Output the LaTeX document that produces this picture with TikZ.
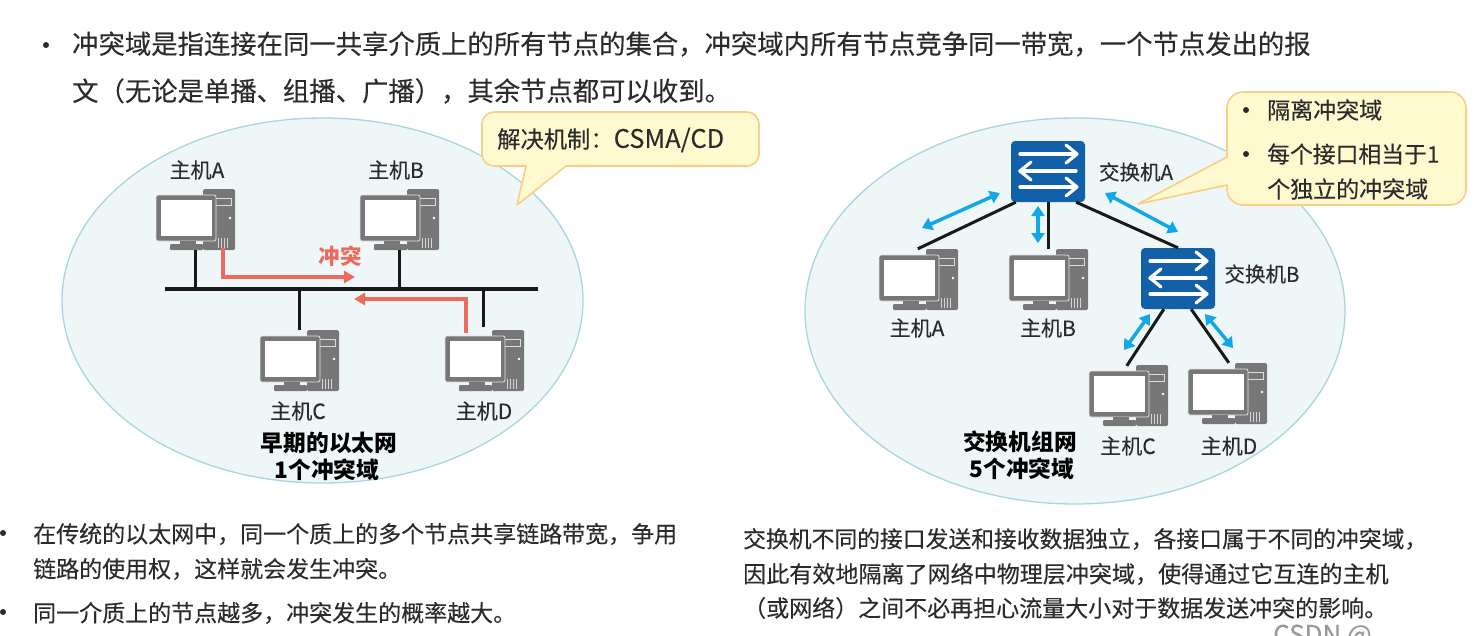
\documentclass[tikz,border=0pt]{standalone}
\usepackage{fontspec}
\setmainfont{Noto Sans CJK SC}[FakeBold=0.15,BoldFeatures={FakeBold=0}]
\usetikzlibrary{arrows.meta,calc}
\definecolor{pcgrey}{HTML}{777777}
\definecolor{swblue}{HTML}{1260A8}
\definecolor{skyarrow}{HTML}{12A8E8}
\definecolor{redarrow}{HTML}{EE6A5A}
\definecolor{domfill}{HTML}{EFF6F8}
\definecolor{domedge}{HTML}{A8D5DF}
\definecolor{tipfill}{HTML}{FFF9CF}
\definecolor{tipedge}{HTML}{F8CF85}
\definecolor{inktext}{HTML}{2B2B2B}
\tikzset{
  bodybig/.style={anchor=west,inner sep=0pt,text=inktext,font=\fontsize{26.35}{30}\selectfont},
  bodysmall/.style={anchor=west,inner sep=0pt,text=inktext,font=\fontsize{22.7}{28}\selectfont},
  tiptext/.style={anchor=west,inner sep=0pt,text=inktext,font=\fontsize{23}{28}\selectfont},
  devlabel/.style={inner sep=0pt,text=inktext,font=\fontsize{21}{26}\selectfont},
  titlelabel/.style={inner sep=0pt,text=black,font=\fontsize{22.7}{27}\selectfont\bfseries},
  bulletdot/.style={circle,fill=inktext,inner sep=0pt,minimum size=6pt},
  cdomain/.style={draw=domedge,fill=domfill,line width=1.3pt},
  calloutbox/.style={draw=tipedge,fill=tipfill,line width=1.6pt,line join=round},
  wireline/.style={line width=3pt,black!90},
  busline/.style={line width=3.8pt,black!90},
  redflow/.style={draw=redarrow,line width=3.6pt,-{Triangle[length=11pt,width=12pt]}},
  blueflow/.style={draw=skyarrow,line width=3.5pt,{Triangle[length=10pt,width=13pt]}-{Triangle[length=10pt,width=13pt]}},
  pc/.pic={
    \node[inner sep=0pt,minimum width=79pt,minimum height=61pt] (box) at (39.5,30.5) {};
    \fill[pcgrey,rounded corners=1.5pt] (47,0) rectangle (79,61);
    \fill[white!75!pcgrey] (51,9) rectangle (76,17);
    \fill[pcgrey] (52,10) rectangle (75,16);
    \fill[white] (74,29) circle (1.4);
    \foreach \sx in {62,65,68,71} \fill[white!70!pcgrey] (\sx,49) rectangle +(1,10);
    \fill[pcgrey,draw=white!80!pcgrey,line width=.8pt,rounded corners=2pt] (0,6) rectangle (60,52);
    \fill[white] (5,11) rectangle (56,47);
    \fill[pcgrey,rounded corners=1pt] (14,55) rectangle (47,61);
    \fill[pcgrey] (24,52) rectangle (40,55);
  },
  swicon/.pic={
    \begin{scope}[draw=white,line width=3.2pt,line cap=round,line join=round]
      \draw (9,13) -- (65,13); \draw (55,4) -- (66,13) -- (55,22);
      \draw (9,30) -- (65,30); \draw (20,21) -- (9,30) -- (20,39);
      \draw (9,46) -- (65,46); \draw (55,37) -- (66,46) -- (55,55);
    \end{scope}
  }
}
\begin{document}
\begin{tikzpicture}[x=1pt,y=-1pt]
\useasboundingbox (0,0) rectangle (1475,635);
\fill[white] (0,0) rectangle (1475,635);

% collision domains
\draw[cdomain] (322.5,300.5) ellipse [x radius=260.5,y radius=182.5];
\draw[cdomain] (1075,311) ellipse [x radius=270,y radius=193];

% heading
\node[bulletdot] (b0) at (46,45) {};
\node[bodybig] (t1) at (72,44) {冲突域是指连接在同一共享介质上的所有节点的集合，冲突域内所有节点竞争同一带宽，一个节点发出的报};
\node[bodybig] (t2) at (72,91) {文（无论是单播、组播、广播），其余节点都可以收到。};

% callouts
\draw[calloutbox] (494,112) -- (747,112) arc[start angle=-90,end angle=0,radius=12]
  -- (759,154) arc[start angle=0,end angle=90,radius=12]
  -- (566,166) -- (517,205) -- (526,166) -- (494,166) arc[start angle=90,end angle=180,radius=12]
  -- (482,124) arc[start angle=180,end angle=270,radius=12] -- cycle;
\node[tiptext,font=\fontsize{23.3}{28}\selectfont] (tipL) at (497,140) {解决机制：{\fontsize{25.5}{28}\selectfont CSMA/CD}};

\draw[calloutbox] (1243,92) -- (1450,92) arc[start angle=-90,end angle=0,radius=16]
  -- (1466,189) arc[start angle=0,end angle=90,radius=16]
  -- (1243,205) arc[start angle=90,end angle=180,radius=16]
  -- (1227,185) -- (1138,204) -- (1227,157) -- (1227,108) arc[start angle=180,end angle=270,radius=16] -- cycle;
\node[bulletdot] (tb1) at (1246,110) {};
\node[tiptext] (tr1) at (1267,110) {隔离冲突域};
\node[bulletdot] (tb2) at (1246,154) {};
\node[tiptext,font=\fontsize{22.8}{28}\selectfont] (tr2) at (1267,154) {每个接口相当于1};
\node[tiptext] (tr3) at (1267,189) {个独立的冲突域};

% left network
\pic (hA) at (156,189) {pc};
\pic (hB) at (360,189) {pc};
\pic (hC) at (260,330) {pc};
\pic (hD) at (445,330) {pc};
\coordinate (busL) at (165,289);
\coordinate (busR) at (538,289);
\draw[busline] (busL) -- (busR);
\draw[wireline] ([xshift=-0.5pt]hAbox.south) -- ([xshift=-0.5pt]hAbox.south |- busL);
\draw[wireline] ([xshift=0pt]hBbox.south) -- (hBbox.south |- busL);
\draw[wireline] (hCbox.north) -- (hCbox.north |- busL);
\draw[wireline] ([xshift=-1pt,yshift=3pt]hDbox.north) -- ([xshift=-1pt]hDbox.north |- busL);
\node[devlabel] (lA) at (197,170) {主机A};
\node[devlabel] (lB) at (396,170) {主机B};
\node[devlabel] (lC) at (298,411) {主机C};
\node[devlabel] (lD) at (484,411) {主机D};
\coordinate (r1s) at (223,248);
\coordinate (r1c) at (223,277);
\coordinate (r1e) at (355,277);
\coordinate (r2s) at (466,333);
\coordinate (r2c) at (466,299);
\coordinate (r2e) at (354,299);
\draw[redflow] (r1s) -- (r1c) -- (r1e);
\draw[redflow] (r2s) -- (r2c) -- (r2e);
\node[inner sep=0pt,text=redarrow,font=\fontsize{21.5}{26}\selectfont\bfseries] (clash) at (340,256) {冲突};
\node[titlelabel] (lt1) at (329,443) {早期的以太网};
\node[titlelabel] (lt2) at (327,470) {1个冲突域};

% right network
\node[inner sep=0pt,fill=swblue,rounded corners=4pt,minimum width=74pt,minimum height=61pt] (swA) at (1048,171.5) {};
\pic at (1011,141) {swicon};
\node[inner sep=0pt,fill=swblue,rounded corners=4pt,minimum width=74pt,minimum height=61pt] (swB) at (1178,278.5) {};
\pic at (1141,248) {swicon};
\pic (rA) at (879,249) {pc};
\pic (rB) at (1009,249) {pc};
\pic (rC) at (1089,365) {pc};
\pic (rD) at (1188,363) {pc};
\draw[wireline] ([xshift=5pt]swA.south west) -- ([xshift=39pt]rAbox.north west);
\draw[wireline] (swA.south) -- (swA.south |- rBbox.north);
\draw[wireline] ([xshift=-9pt]swA.south east) -- (swB.north);
\draw[wireline] ([xshift=23pt]swB.south west) -- ([xshift=38pt,yshift=-1pt]rCbox.north west);
\draw[wireline] ([xshift=-24pt]swB.south east) -- ([xshift=41pt,yshift=0pt]rDbox.north west);
\coordinate (a1s) at (1000,193); \coordinate (a1e) at (922,228);
\coordinate (a2s) at (1038,206); \coordinate (a2e) at (1038,243);
\coordinate (a3s) at (1105,193); \coordinate (a3e) at (1178,232);
\coordinate (a4s) at (1150,314); \coordinate (a4e) at (1124,350);
\coordinate (a5s) at (1205,314); \coordinate (a5e) at (1233,348);
\draw[blueflow] (a1s) -- (a1e);
\draw[blueflow] (a2s) -- (a2e);
\draw[blueflow] (a3s) -- (a3e);
\draw[blueflow] (a4s) -- (a4e);
\draw[blueflow] (a5s) -- (a5e);
\node[devlabel,font=\fontsize{20.5}{26}\selectfont] (sa) at (1136,172) {交换机A};
\node[devlabel,font=\fontsize{20.5}{26}\selectfont] (sb) at (1262,274) {交换机B};
\node[devlabel] (ra) at (917,328) {主机A};
\node[devlabel] (rb) at (1048,328) {主机B};
\node[devlabel] (rc) at (1128,446) {主机C};
\node[devlabel] (rd) at (1229,446) {主机D};
\node[titlelabel] (rt1) at (1020,442) {交换机组网};
\node[titlelabel] (rt2) at (1022,469) {5个冲突域};

% bottom text
\node[bulletdot] (bb1) at (3,533) {};
\node[bodysmall,font=\fontsize{23}{28}\selectfont] (bl1) at (33,534) {在传统的以太网中，同一个质上的多个节点共享链路带宽，争用};
\node[bodysmall,font=\fontsize{23}{28}\selectfont] (bl2) at (33,569) {链路的使用权，这样就会发生冲突。};
\node[bulletdot] (bb2) at (3,612) {};
\node[bodysmall,font=\fontsize{23}{28}\selectfont] (bl3) at (33,613) {同一介质上的节点越多，冲突发生的概率越大。};
\node[bodysmall,font=\fontsize{22.8}{28}\selectfont] (br1) at (743,539) {交换机不同的接口发送和接收数据独立，各接口属于不同的冲突域，};
\node[bodysmall,font=\fontsize{23.05}{28}\selectfont] (br2) at (743,574) {因此有效地隔离了网络中物理层冲突域，使得通过它互连的主机};
\node[bodysmall,font=\fontsize{23}{28}\selectfont] (br3) at (743,608) {（或网络）之间不必再担心流量大小对于数据发送冲突的影响。};
\node[anchor=base west,inner sep=0pt,text=black!40,font=\fontsize{26}{30}\selectfont] (wm) at (1273,644) {CSDN @};
\end{tikzpicture}
\end{document}
